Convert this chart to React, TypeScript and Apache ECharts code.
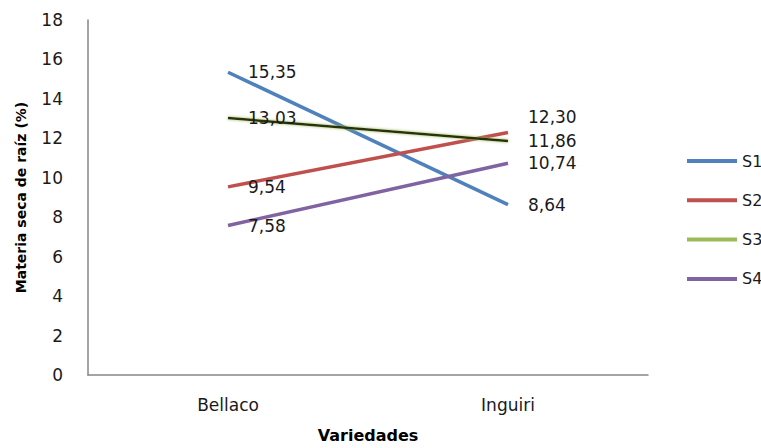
import React, { useEffect, useRef } from "react";
import * as echarts from "echarts";

const categories = ["Bellaco", "Inguiri"];
const seriesNames = ["S1", "S2", "S3", "S4"];
const s1 = [15.35, 8.64];
const s2 = [9.54, 12.3];
const s3 = [13.03, 11.86];
const s4 = [7.58, 10.74];
const yTicks = { min: 0, max: 18, interval: 2 };

const colors = ["#4F81BD", "#C0504D", "#9BBB59", "#8064A2"];
const FONT = "DejaVu Sans";

export default function App() {
  const ref = useRef<HTMLDivElement>(null);
  useEffect(() => {
    if (!ref.current) return;
    document.body.style.overflow = "hidden";
    document.body.style.margin = "0";
    const chart = echarts.init(ref.current, null, { renderer: "svg" });
    const fmt = (p: any) => Number(p.value).toFixed(2).replace(".", ",");
    const labelBase = {
      show: true,
      position: "right",
      distance: 20,
      formatter: fmt,
      color: "#1a1a1a",
      fontFamily: FONT,
      fontSize: 17,
    };
    const values = [s1, s2, s3, s4];
    const series = values.map((vals, i) => ({
      name: seriesNames[i],
      type: "line",
      data: vals.map((v, j) =>
        i === 1 && j === 1 ? { value: v, label: { offset: [0, -15] } } : v
      ),
      symbol: "circle",
      symbolSize: 0,
      showSymbol: true,
      itemStyle: { color: colors[i] },
      lineStyle: {
        color: i === 2 ? "#2a3310" : colors[i],
        width: i === 2 ? 2.5 : 3.5,
        ...(i === 2 ? { shadowColor: "#9BBB59", shadowBlur: 3 } : {}),
      },
      label: labelBase,
      emphasis: { disabled: true },
      z: i === 2 ? 3 : 2,
    }));
    chart.setOption({
      animation: false,
      backgroundColor: "#ffffff",
      grid: { left: 88, right: 113, top: 20, bottom: 70 },
      legend: {
        orient: "vertical",
        left: 682,
        top: 148,
        itemWidth: 50,
        itemHeight: 4,
        itemGap: 23.3,
        icon: "rect",
        textStyle: {
          fontFamily: FONT,
          fontSize: 16,
          color: "#1a1a1a",
        },
        data: seriesNames.map((n, i) => ({
          name: n,
          itemStyle: { color: colors[i] },
        })),
      },
      xAxis: {
        type: "category",
        data: categories,
        boundaryGap: true,
        name: "Variedades",
        nameLocation: "middle",
        nameGap: 52,
        nameTextStyle: {
          fontFamily: FONT,
          fontSize: 16,
          fontWeight: "bold",
          color: "#000",
        },
        axisLine: { lineStyle: { color: "#868686", width: 1.5 } },
        axisTick: { show: false },
        axisLabel: {
          fontFamily: FONT,
          fontSize: 17,
          color: "#1a1a1a",
          margin: 21,
        },
      },
      yAxis: {
        type: "value",
        min: yTicks.min,
        max: yTicks.max,
        interval: yTicks.interval,
        name: "Materia seca de raíz (%)",
        nameLocation: "middle",
        nameGap: 60,
        nameTextStyle: {
          fontFamily: FONT,
          fontSize: 14,
          fontWeight: "bold",
          color: "#000",
        },
        axisLine: { show: true, lineStyle: { color: "#868686", width: 1.5 } },
        axisTick: { show: false },
        splitLine: { show: false },
        axisLabel: {
          fontFamily: FONT,
          fontSize: 17,
          color: "#1a1a1a",
          margin: 25,
        },
      },
      series,
    });
    return () => chart.dispose();
  }, []);
  return (
    <div
      ref={ref}
      style={{ position: "absolute", left: 0, top: 0, width: 761, height: 448 }}
    />
  );
}
